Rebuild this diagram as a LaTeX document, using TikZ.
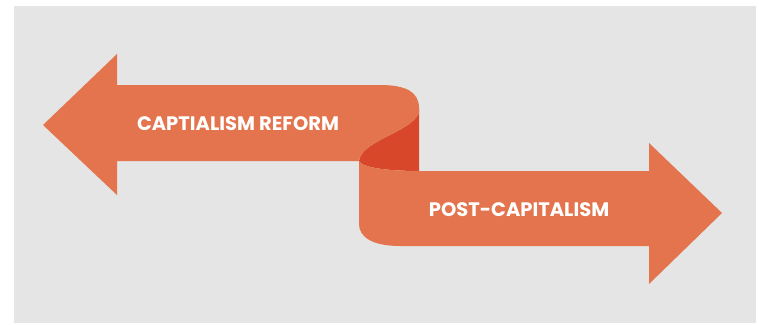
\documentclass[tikz,border=0pt]{standalone}
\usepackage{fontspec}
\newfontfamily\bannerfont{Poppins}
\usepackage{tikz}
\definecolor{ribbon}{HTML}{E3744D}
\definecolor{ribbonfold}{HTML}{D9472A}
\definecolor{backgray}{HTML}{E5E5E5}

\begin{document}
\begin{tikzpicture}[x=1pt,y=-1pt,
    label text/.style={text=white, font=\bannerfont\bfseries\fontsize{19.5}{19.5}\selectfont}]
  \useasboundingbox (0,0) rectangle (759,324);
  \fill[backgray] (14,6) rectangle (756,323);
  % fold behind the two arrows
  \fill[ribbonfold] (419,108) -- (419,171) .. controls (390,171) and (362,168) .. (359,161)
	.. controls (362,140) and (410,133) .. (419,113) -- cycle;
  % left arrow
  \fill[ribbon] (43,125) -- (117,54) -- (117,85) -- (380,85)
	.. controls (406,85) and (419,92) .. (419,108) -- (419,113)
	.. controls (410,133) and (362,140) .. (359,161) -- (117,161) -- (117,195) -- cycle;
  % right arrow
  \fill[ribbon] (359,161) .. controls (362,168) and (390,171) .. (419,171) -- (649,171)
	-- (649,143) -- (722,213) -- (649,284) -- (649,246) -- (400,246)
	.. controls (374,246) and (359,238) .. (359,224) -- cycle;
  \node[label text] (reform) at (238,124) {CAPTIALISM REFORM};
  \node[label text] (post) at (519,210) {POST-CAPITALISM};
\end{tikzpicture}
\end{document}
